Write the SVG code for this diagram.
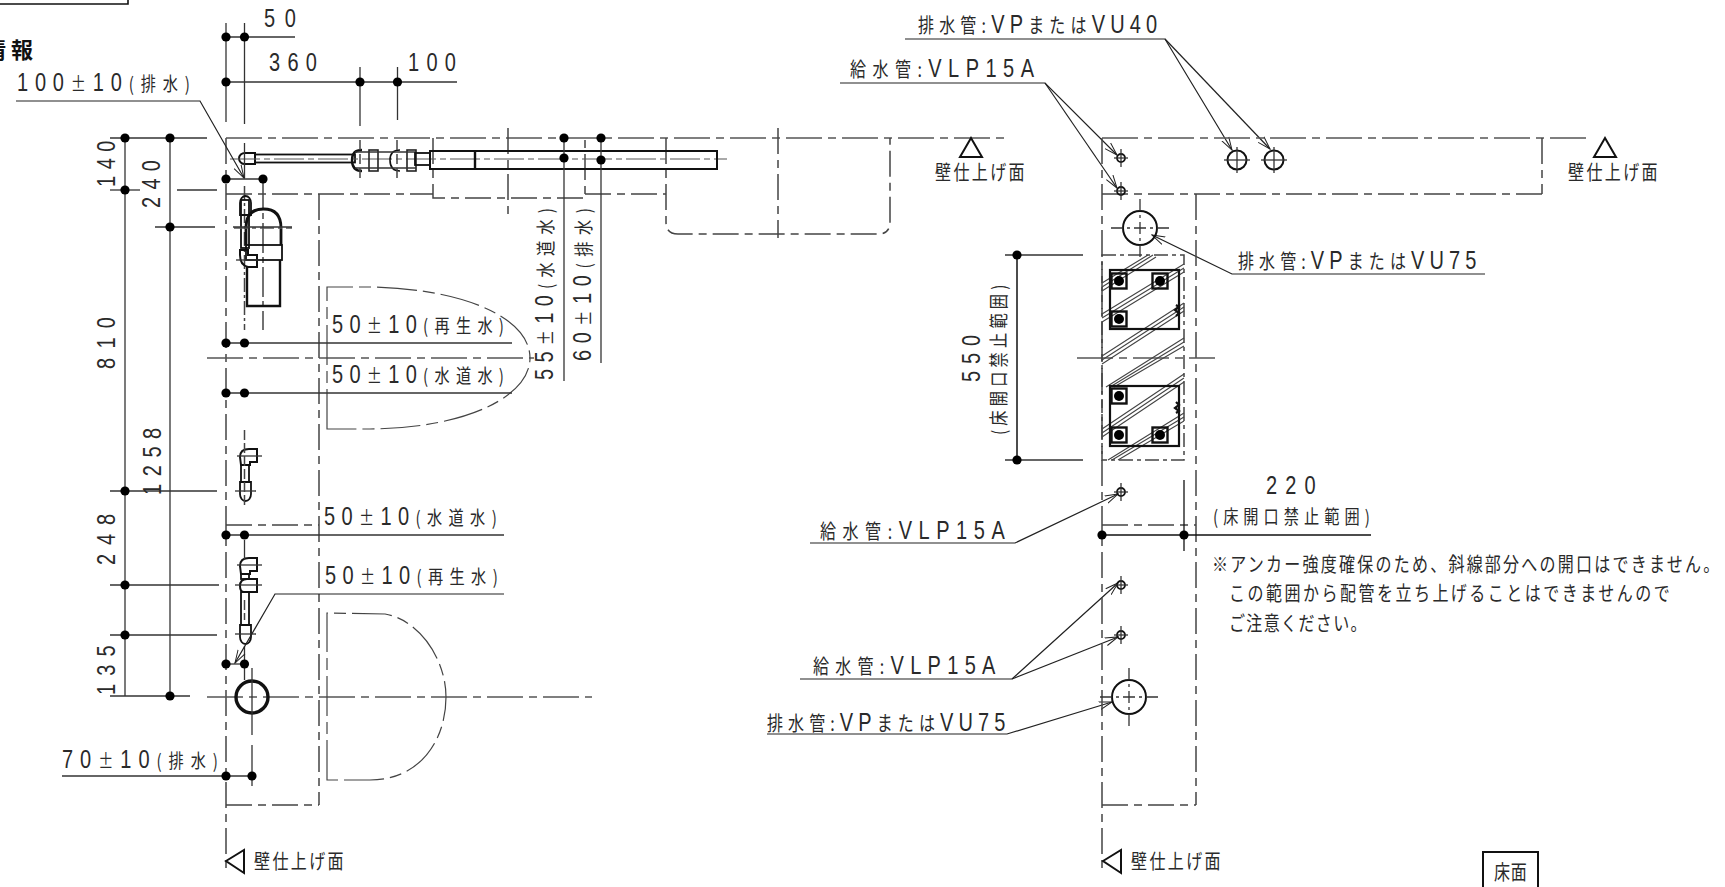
<svg xmlns="http://www.w3.org/2000/svg" width="1725" height="887" viewBox="0 0 1725 887">
<style>
text{font-family:"Liberation Sans","Noto Sans CJK JP",sans-serif;font-size:25px;fill:#2a2a2a}
.k{font-size:20px;font-family:"Noto Sans CJK JP","Liberation Sans",sans-serif}
.s{font-size:19px;font-family:"Noto Sans CJK JP","Liberation Sans",sans-serif}
.b{font-size:22px;font-weight:bold;font-family:"Noto Sans CJK JP",sans-serif;fill:#111}
line,path,rect,circle,polygon,polyline{fill:none;stroke:#222;stroke-width:1.3}
.cl{stroke:#555;stroke-width:1.7;stroke-dasharray:36 6 8 6}
.ds{stroke:#444;stroke-width:1.5;stroke-dasharray:26 6 8 6}
.e{stroke:#333;stroke-width:1.3}
.t{stroke:#111;stroke-width:2.4}
.h{stroke:#444;stroke-width:1.1}
.dot{fill:#000;stroke:none}
.lead{stroke:#222;stroke-width:1.2;marker-end:url(#arr)}
</style>
<defs>
<marker id="arr" markerUnits="userSpaceOnUse" markerWidth="14" markerHeight="10" refX="13" refY="5" orient="auto"><path d="M0 1 L13 5 L0 9" style="stroke:#222;stroke-width:1"/></marker>
<g id="dot"><circle r="4.6" class="dot"/></g>
<g id="sm"><circle r="4" class="t" style="stroke-width:1.8"/><line x1="-7" x2="7" class="e"/><line y1="-9" y2="9" class="e"/></g>
<g id="sq"><rect x="-7.5" y="-7.5" width="15" height="15" class="t"/><circle r="5" class="dot"/></g>
<g id="cap"><path d="M-5.5 -15 L-5.5 -3 A5.5 7 0 0 0 5.500 -3 L5.500 -15 Z" class="t" style="stroke-width:1.8"/></g>
<g id="elb"><path d="M1 16 L0 8 Q0 0 9 0 L17 0 L17 13 L10 13 L10 16 Z" class="t" style="stroke-width:2"/><line x1="-3" x2="22" y1="7" y2="7" class="e"/></g>
</defs>

<g id="titlebox">
<polyline points="0,4 128,4 128,0" class="t" style="stroke-width:1.6"/>
<text class="b" text-anchor="end" x="38" y="58" letter-spacing="5">情報</text>
</g>

<g id="plan-left">
<line x1="226" y1="138" x2="226" y2="873" class="ds"/>
<line x1="226" y1="138" x2="1010" y2="138" class="cl"/>
<line x1="226" y1="194" x2="433" y2="194" class="ds"/>
<line x1="319" y1="194" x2="319" y2="805" class="ds"/>
<line x1="226" y1="525" x2="319" y2="525" class="ds"/>
<line x1="226" y1="805" x2="319" y2="805" class="ds"/>
<path d="M433 138 L433 198 L585 198 L585 138" class="ds"/>
<line x1="585" y1="194" x2="666" y2="194" class="ds"/>
<path d="M666 138 L666 222 Q666 234 678 234 L878 234 Q890 234 890 222 L890 138" class="ds"/>
<line x1="778" y1="128" x2="778" y2="238" class="ds"/>
<line x1="508" y1="128" x2="508" y2="215" class="ds"/>
<line x1="207" y1="358" x2="534" y2="358" class="cl"/>
<line x1="207" y1="697" x2="592" y2="697" class="cl"/>
<path d="M327 429 L327 287 L375 287 C470 290 530 320 530 358 C530 395 470 428 370 429 Z" class="ds" style="stroke-dasharray:40 6 12 6;stroke-width:1.2"/>
<path d="M327 780 L327 613 L385 614 C420 620 446 660 446 697 C446 740 420 780 370 780 Z" class="ds" style="stroke-dasharray:40 6 12 6;stroke-width:1.2"/>
</g>

<g id="pipe-top">
<path d="M255 153 L245 153 A6 5.500 0 0 0 245 164 L255 164 Z" class="t" style="stroke-width:2"/>
<rect x="255" y="154.500" width="100" height="8" class="t" style="stroke-width:1.8"/>
<line x1="230" y1="159" x2="727" y2="159" class="cl" style="stroke-dasharray:30 4 6 4;stroke-width:1.1"/>
<path d="M362 150 Q352 150 352 160 Q352 171 362 171" class="t"/>
<path d="M400 150 Q390 150 390 160 Q390 171 400 171" class="t" style="stroke-width:1.6"/>
<rect x="369" y="150" width="9" height="21" style="stroke-width:1.6"/>
<rect x="407" y="150" width="9" height="21" style="stroke-width:1.6"/>
<line x1="355" y1="152" x2="416" y2="152" class="e"/>
<line x1="355" y1="168" x2="416" y2="168" class="e"/>
<rect x="415" y="153" width="15" height="12" class="t" style="stroke-width:1.8"/>
<rect x="430" y="151" width="287" height="18" class="t" style="stroke-width:2"/>
<line x1="475" y1="151" x2="475" y2="169" class="t"/>
<line x1="360" y1="140" x2="360" y2="182" class="ds" style="stroke-dasharray:10 4"/>
<line x1="397" y1="140" x2="397" y2="182" class="ds" style="stroke-dasharray:10 4"/>
</g>

<g id="pipe-drain">
<line x1="244.500" y1="143" x2="244.500" y2="178" class="e"/>
<line x1="244.500" y1="186" x2="244.500" y2="330" class="ds" style="stroke-dasharray:14 3 3 3"/>
<line x1="263" y1="179" x2="263" y2="330" class="ds" style="stroke-dasharray:30 4 6 4"/>
<use href="#cap" transform="translate(245.500,200) rotate(180)"/>
<rect x="241" y="200" width="8" height="48" class="t" style="stroke-width:1.8"/>
<path d="M240 250 L248 250 L248 255 L257 255 L257 267 L248 267 Q240 265 240 255 Z" class="t" style="stroke-width:2"/>
<path d="M246 245 L246 228 Q246 209 263.500 209 Q281 209 281 228 L281 245" class="t" style="stroke-width:2.8"/>
<rect x="246" y="245" width="36" height="15" class="t" style="stroke-width:1.8"/>
<path d="M247 267 L247 306 L280 306 L280 260" class="t"/>
<line x1="234" y1="228" x2="292" y2="228" class="cl" style="stroke-dasharray:14 4 4 4"/>
<line x1="236" y1="260" x2="262" y2="260" class="e"/>
</g>
<g id="pipe-water">
<use href="#elb" transform="translate(240,449)"/>
<rect x="241" y="465" width="8" height="17" class="t" style="stroke-width:1.8"/>
<use href="#cap" transform="translate(245.500,497)"/>
<line x1="235" y1="491" x2="256" y2="491" class="e"/>
<line x1="244.500" y1="430" x2="244.500" y2="505" class="ds" style="stroke-dasharray:10 3"/>
</g>
<g id="pipe-reclaimed">
<use href="#elb" transform="translate(240,558)"/>
<rect x="241" y="574" width="8" height="5" class="t" style="stroke-width:1.8"/>
<path d="M240 586 Q240 579 247 579 L257 579 L257 592 L244 592 Q240 592 240 586 Z" class="t" style="stroke-width:2"/>
<rect x="241" y="592" width="8" height="33" class="t" style="stroke-width:1.8"/>
<use href="#cap" transform="translate(245.500,640)"/>
<line x1="235" y1="634" x2="256" y2="634" class="e"/>
<line x1="235" y1="585" x2="262" y2="585" class="e"/>
<line x1="244.500" y1="540" x2="244.500" y2="560" class="e"/>
<line x1="244.500" y1="600" x2="244.500" y2="620" class="ds" style="stroke-dasharray:10 3"/>
<line x1="244.500" y1="646" x2="244.500" y2="680" class="e"/>
</g>
<g id="drain-circle-left">
<circle cx="252" cy="697" r="16" class="t" style="stroke-width:3.4"/>
<line x1="252" y1="668" x2="252" y2="735" class="e"/>
<line x1="252" y1="745" x2="252" y2="786" class="e"/>
</g>

<g id="dimensions-left">
<line x1="226" y1="23" x2="226" y2="122" class="e"/>
<line x1="244.500" y1="23" x2="244.500" y2="124" class="e"/>
<line x1="226" y1="37" x2="295" y2="37" class="e"/>
<line x1="226" y1="82" x2="457" y2="82" class="e"/>
<line x1="360" y1="67" x2="360" y2="126" class="e"/>
<line x1="397.500" y1="67" x2="397.500" y2="120" class="e"/>
<line x1="110" y1="138" x2="207" y2="138" class="e"/>
<line x1="125" y1="138" x2="125" y2="696" class="e"/>
<line x1="170" y1="138" x2="170" y2="696" class="e"/>
<line x1="110" y1="190" x2="140" y2="190" class="e"/>
<line x1="177" y1="190" x2="217" y2="190" class="e"/>
<line x1="155" y1="227" x2="215" y2="227" class="e"/>
<line x1="233" y1="227" x2="292" y2="227" class="e"/>
<line x1="110" y1="491" x2="217" y2="491" class="e"/>
<line x1="110" y1="585" x2="219" y2="585" class="e"/>
<line x1="110" y1="635" x2="217" y2="635" class="e"/>
<line x1="110" y1="696" x2="190" y2="696" class="e"/>
<line x1="226" y1="179" x2="263" y2="179" class="e"/>
<line x1="226" y1="343" x2="512" y2="343" class="e"/>
<line x1="226" y1="393" x2="512" y2="393" class="e"/>
<line x1="226" y1="535" x2="504" y2="535" class="e"/>
<line x1="226" y1="664" x2="245" y2="664" class="e"/>
<line x1="62" y1="776" x2="252" y2="776" class="e"/>
<line x1="564" y1="138" x2="564" y2="381" class="e"/>
<line x1="601" y1="138" x2="601" y2="363" class="e"/>
<use href="#dot" x="226" y="37"/><use href="#dot" x="244.500" y="37"/>
<use href="#dot" x="226" y="82"/><use href="#dot" x="360" y="82"/><use href="#dot" x="397.500" y="82"/>
<use href="#dot" x="125" y="138"/><use href="#dot" x="170" y="138"/><use href="#dot" x="125" y="190"/><use href="#dot" x="170" y="227"/>
<use href="#dot" x="125" y="491"/><use href="#dot" x="125" y="585"/><use href="#dot" x="125" y="635"/><use href="#dot" x="170" y="696"/>
<use href="#dot" x="226" y="179"/><use href="#dot" x="263" y="179"/>
<use href="#dot" x="226" y="343"/><use href="#dot" x="244.500" y="343"/>
<use href="#dot" x="226" y="393"/><use href="#dot" x="244.500" y="393"/>
<use href="#dot" x="226" y="535"/><use href="#dot" x="244.500" y="535"/>
<use href="#dot" x="226" y="664"/><use href="#dot" x="244.500" y="664"/>
<use href="#dot" x="226" y="776"/><use href="#dot" x="252" y="776"/>
<use href="#dot" x="564" y="138"/><use href="#dot" x="564" y="158"/><use href="#dot" x="601" y="138"/><use href="#dot" x="601" y="160"/>
</g>

<g id="connectors">
<polyline points="16,101 200,101 244,178" class="lead"/>
<polyline points="504,594 275,594 235,663" class="lead"/>
<polyline points="905,39 1165,39 1232,150" class="lead"/>
<line x1="1165" y1="39" x2="1270" y2="149" class="lead"/>
<polyline points="840,83 1045,83 1117,155" class="lead"/>
<line x1="1045" y1="83" x2="1117" y2="188" class="lead"/>
<polyline points="1485,274 1232,274 1152,235" class="lead"/>
<polyline points="810,543 1015,543 1118,494" class="lead"/>
<polyline points="800,679 1012,679 1118,583" class="lead"/>
<line x1="1012" y1="679" x2="1118" y2="637" class="lead"/>
<polyline points="767,734 1007,734 1112,702" class="lead"/>
</g>

<g id="plan-right">
<line x1="1102" y1="138" x2="1102" y2="873" class="ds"/>
<line x1="1102" y1="138" x2="1588" y2="138" class="cl"/>
<line x1="1102" y1="194" x2="1542" y2="194" class="ds"/>
<line x1="1542" y1="138" x2="1542" y2="194" class="ds"/>
<line x1="1196" y1="194" x2="1196" y2="805" class="ds"/>
<line x1="1102" y1="525" x2="1196" y2="525" class="ds"/>
<line x1="1102" y1="805" x2="1196" y2="805" class="ds"/>
<line x1="1077" y1="358" x2="1215" y2="358" class="cl"/>
</g>
<g id="anchor-zone">
<rect x="1102" y="255" width="82" height="205" class="ds" style="stroke-dasharray:14 4 4 4"/>
<g class="h">
<path d="M1102 283L1148 255M1102 287L1153 255M1102 291L1156 257" class="h"/>
<path d="M1102 314L1184 264M1102 318L1184 268M1102 322L1184 272" class="h"/>
<path d="M1102 356L1184 303M1102 360L1184 307M1102 364L1184 311" class="h"/>
<path d="M1106 387L1184 338M1110 387L1184 342M1114 387L1184 346" class="h"/>
<path d="M1102 429L1184 374M1102 433L1184 378M1102 437L1184 382" class="h"/>
<path d="M1108 460L1184 413M1112 460L1184 417M1118 460L1184 421" class="h"/>
</g>
<rect x="1110" y="270" width="69" height="59" class="t" style="stroke-width:2.2"/>
<rect x="1110" y="386" width="69" height="60" class="t" style="stroke-width:2.2"/>
<path d="M1176 305 L1179 307 L1175 310 L1179 313 L1176 316" class="t" style="stroke-width:2.2"/>
<path d="M1176 402 L1179 405 L1175 408 L1179 411 L1176 413" class="t" style="stroke-width:2.2"/>
<use href="#sq" x="1119" y="281"/><use href="#sq" x="1160" y="281"/><use href="#sq" x="1119" y="319"/>
<use href="#sq" x="1119" y="396"/><use href="#sq" x="1119" y="435"/><use href="#sq" x="1160" y="435"/>
</g>
<g id="holes-right">
<use href="#sm" x="1121" y="158"/><use href="#sm" x="1121" y="191"/>
<use href="#sm" x="1121" y="492"/><use href="#sm" x="1121" y="585"/><use href="#sm" x="1121" y="635"/>
<g transform="translate(1237,160)"><circle r="9.500" class="t" style="stroke-width:2"/><line x1="-13" x2="13" class="e"/><line y1="-13" y2="13" class="e"/></g>
<g transform="translate(1274,160)"><circle r="9.500" class="t" style="stroke-width:2"/><line x1="-13" x2="13" class="e"/><line y1="-13" y2="13" class="e"/></g>
<g transform="translate(1140,228)"><circle r="17" class="t" style="stroke-width:2"/><line x1="-29" x2="29" class="e" style="stroke-dasharray:12 4 3 4"/><line y1="-29" y2="29" class="e" style="stroke-dasharray:12 4 3 4"/></g>
<g transform="translate(1129,697)"><circle r="17" class="t" style="stroke-width:2"/><line x1="-29" x2="29" class="e" style="stroke-dasharray:12 4 3 4"/><line y1="-29" y2="29" class="e" style="stroke-dasharray:12 4 3 4"/></g>
</g>
<g id="dimensions-right">
<line x1="1005" y1="255" x2="1083" y2="255" class="e"/>
<line x1="1005" y1="460" x2="1083" y2="460" class="e"/>
<line x1="1017" y1="255" x2="1017" y2="460" class="t" style="stroke-width:1.5"/>
<use href="#dot" x="1017" y="255"/><use href="#dot" x="1017" y="460"/>
<line x1="1102" y1="535" x2="1371" y2="535" class="t" style="stroke-width:1.5"/>
<line x1="1184" y1="480" x2="1184" y2="551" class="t" style="stroke-width:1.3"/>
<use href="#dot" x="1102" y="535"/><use href="#dot" x="1184" y="535"/>
</g>

<g id="level-marks">
<polygon points="971,138 960,157 982,157" class="t" style="stroke-width:2"/>
<polygon points="1605,138 1594,157 1616,157" class="t" style="stroke-width:2"/>
<polygon points="226,861 244,850 244,873" class="t" style="stroke-width:2"/>
<polygon points="1103,861 1121,850 1121,873" class="t" style="stroke-width:2"/>
<path d="M1483 887 L1483 852 L1538 852 L1538 887" class="t" style="stroke-width:2"/>
</g>

<g id="labels">
<text transform="translate(264,27) scale(.8,1)" textLength="40" lengthAdjust="spacing">50</text>
<text transform="translate(269,71) scale(.8,1)" textLength="60" lengthAdjust="spacing">360</text>
<text transform="translate(408,71) scale(.8,1)" textLength="60" lengthAdjust="spacing">100</text>
<text transform="translate(17,91) scale(.8,1)" textLength="216" lengthAdjust="spacing">100<tspan class="s">±</tspan>10<tspan class="s">(排水)</tspan></text>
<text transform="translate(332,333) scale(.8,1)" textLength="215" lengthAdjust="spacing">50<tspan class="s">±</tspan>10<tspan class="s">(再生水)</tspan></text>
<text transform="translate(332,383) scale(.8,1)" textLength="215" lengthAdjust="spacing">50<tspan class="s">±</tspan>10<tspan class="s">(水道水)</tspan></text>
<text transform="translate(324,525) scale(.8,1)" textLength="216" lengthAdjust="spacing">50<tspan class="s">±</tspan>10<tspan class="s">(水道水)</tspan></text>
<text transform="translate(325,584) scale(.8,1)" textLength="216" lengthAdjust="spacing">50<tspan class="s">±</tspan>10<tspan class="s">(再生水)</tspan></text>
<text transform="translate(62,768) scale(.8,1)" textLength="195" lengthAdjust="spacing">70<tspan class="s">±</tspan>10<tspan class="s">(排水)</tspan></text>
<text transform="translate(115,187) rotate(-90) scale(.8,1)" textLength="58" lengthAdjust="spacing">140</text>
<text transform="translate(160,208) rotate(-90) scale(.8,1)" textLength="60" lengthAdjust="spacing">240</text>
<text transform="translate(115,369) rotate(-90) scale(.8,1)" textLength="65" lengthAdjust="spacing">810</text>
<text transform="translate(161,495) rotate(-90) scale(.8,1)" textLength="84" lengthAdjust="spacing">1258</text>
<text transform="translate(115,565) rotate(-90) scale(.8,1)" textLength="64" lengthAdjust="spacing">248</text>
<text transform="translate(115,695) rotate(-90) scale(.8,1)" textLength="62" lengthAdjust="spacing">135</text>
<text transform="translate(553,380) rotate(-90) scale(.8,1)" textLength="215" lengthAdjust="spacing">55<tspan class="s">±</tspan>10<tspan class="s">(水道水)</tspan></text>
<text transform="translate(591,361) rotate(-90) scale(.8,1)" textLength="191" lengthAdjust="spacing">60<tspan class="s">±</tspan>10<tspan class="s">(排水)</tspan></text>
<text transform="translate(980,382) rotate(-90) scale(.8,1)" textLength="59" lengthAdjust="spacing">550</text>
<text class="s" transform="translate(1006,435) rotate(-90) scale(.8,1)" textLength="188" lengthAdjust="spacing">(床開口禁止範囲)</text>
<text class="k" transform="translate(935,180) scale(.8,1)" textLength="112" lengthAdjust="spacing">壁仕上げ面</text>
<text class="k" transform="translate(1568,180) scale(.8,1)" textLength="112" lengthAdjust="spacing">壁仕上げ面</text>
<text class="k" transform="translate(254,869) scale(.8,1)" textLength="112" lengthAdjust="spacing">壁仕上げ面</text>
<text class="k" transform="translate(1131,869) scale(.8,1)" textLength="112" lengthAdjust="spacing">壁仕上げ面</text>
<text class="k" transform="translate(1494,880) scale(.8,1)" textLength="41" lengthAdjust="spacing">床面</text>
<text transform="translate(918,33) scale(.8,1)" textLength="299" lengthAdjust="spacing"><tspan class="k">排水管:</tspan>VP<tspan class="k">または</tspan>VU40</text>
<text transform="translate(850,77) scale(.8,1)" textLength="230" lengthAdjust="spacing"><tspan class="k">給水管:</tspan>VLP15A</text>
<text transform="translate(1238,269) scale(.8,1)" textLength="298" lengthAdjust="spacing"><tspan class="k">排水管:</tspan>VP<tspan class="k">または</tspan>VU75</text>
<text transform="translate(820,539) scale(.8,1)" textLength="231" lengthAdjust="spacing"><tspan class="k">給水管:</tspan>VLP15A</text>
<text transform="translate(813,674) scale(.8,1)" textLength="228" lengthAdjust="spacing"><tspan class="k">給水管:</tspan>VLP15A</text>
<text transform="translate(767,731) scale(.8,1)" textLength="298" lengthAdjust="spacing"><tspan class="k">排水管:</tspan>VP<tspan class="k">または</tspan>VU75</text>
<text transform="translate(1266,494) scale(.8,1)" textLength="62" lengthAdjust="spacing">220</text>
<text class="s" transform="translate(1213,524) scale(.8,1)" textLength="196" lengthAdjust="spacing">(床開口禁止範囲)</text>
<text class="k" transform="translate(1212,572) scale(.8,1)" textLength="634" lengthAdjust="spacing">※アンカー強度確保のため、斜線部分への開口はできません。</text>
<text class="k" transform="translate(1229,601) scale(.8,1)" textLength="551" lengthAdjust="spacing">この範囲から配管を立ち上げることはできませんので</text>
<text class="k" transform="translate(1229,631) scale(.8,1)" textLength="172" lengthAdjust="spacing">ご注意ください。</text>
</g>
</svg>
